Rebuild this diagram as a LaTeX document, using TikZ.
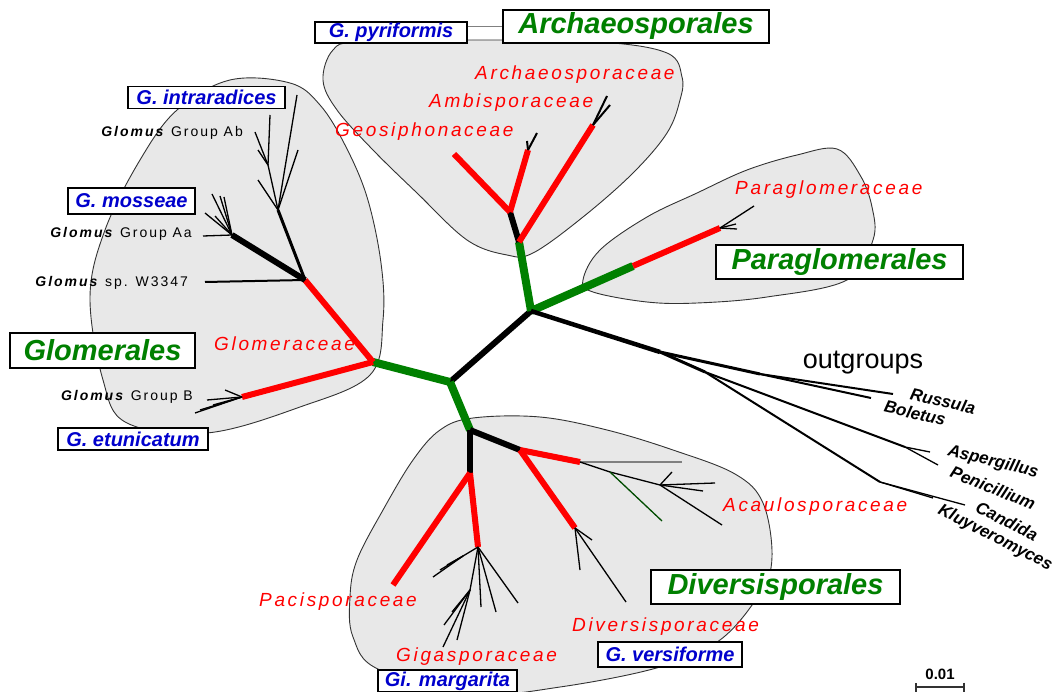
\documentclass[tikz,border=0pt]{standalone}
\usepackage{fontspec}
\setmainfont{Liberation Sans}
\newfontfamily\spacedfont[LetterSpace=14]{Liberation Sans}
\usetikzlibrary{arrows.meta,positioning}
\definecolor{ordergreen}{RGB}{0,128,0}
\definecolor{spblue}{RGB}{0,0,204}
\tikzset{
  clade/.style={draw=black!80, line width=0.9pt, fill=gray!18},
  orderbox/.style={draw, line width=1.6pt, fill=white, text=ordergreen, inner sep=0pt,
    font=\fontsize{29}{30}\selectfont\bfseries\itshape},
  spbox/.style={draw, line width=1.4pt, fill=white, text=spblue, inner sep=0pt,
    font=\fontsize{20}{22}\selectfont\bfseries\itshape},
  family/.style={text=red, inner sep=0pt, font=\spacedfont\fontsize{19}{20}\selectfont\itshape},
  taxon/.style={inner sep=0pt, font=\spacedfont\fontsize{14}{15}\selectfont},
  outtaxon/.style={inner sep=0pt, font=\fontsize{17}{18}\selectfont\bfseries\itshape},
  greenbr/.style={draw=ordergreen, line width=8pt},
  redbr/.style={draw=red, line width=6pt},
  blackbr/.style={draw=black, line width=6pt},
  medbr/.style={draw=black, line width=3pt},
  tipbr/.style={draw=black, line width=1.3pt},
}
\newcommand{\genus}{\textbf{\textit{Glomus}}}
\begin{document}
\begin{tikzpicture}[x=1pt, y=-1pt]
  \useasboundingbox (0,0) rectangle (1059,692);

  % Clade backgrounds
  \draw[clade] plot[smooth cycle, tension=0.6] coordinates {(230,80) (290,83) (320,105) (345,145) (367,197) (381,263) (383,320) (370,375) (300,407) (207,433) (127,423) (103,380) (90,297) (105,230) (140,160) (177,110)};
  \draw[clade] plot[smooth cycle, tension=0.6] coordinates {(333,50) (360,42) (480,40) (600,42) (667,53) (682,77) (680,100) (667,133) (633,173) (583,217) (533,253) (507,255) (467,240) (417,193) (373,150) (337,110) (323,80)};
  \draw[clade] plot[smooth cycle, tension=0.6] coordinates {(583,280) (600,250) (647,217) (697,193) (747,170) (797,155) (837,149) (860,175) (872,207) (873,240) (847,280) (767,297) (697,303) (647,302) (593,292)};
  \draw[clade] plot[smooth cycle, tension=0.6] coordinates {(440,430) (473,418) (540,417) (607,430) (673,450) (735,474) (763,503) (772,557) (760,593) (720,640) (660,667) (560,687) (480,693) (380,670) (353,637) (350,597) (357,560) (383,510) (413,460)};

  % Backbone
  \coordinate (hubB) at (450,382);
  \coordinate (hubA) at (531,311);
  \coordinate (glo) at (373,362);
  \coordinate (div) at (470,430);
  \coordinate (arc) at (519,242);
  \coordinate (par) at (633,266);
  \draw[blackbr] (hubB) -- (hubA);
  \draw[greenbr] (hubB) -- (glo);
  \draw[greenbr] (hubB) -- (div);
  \draw[greenbr] (hubA) -- (arc);
  \draw[greenbr] (hubA) -- (par);

  % Glomerales
  \coordinate (glA) at (305,280);
  \coordinate (glB) at (242,397);
  \coordinate (gaa) at (232,235);
  \coordinate (ab0) at (278,210);
  \coordinate (ab1) at (268,165);
  \coordinate (w3347) at (205,282);
  \draw[redbr] (glo) -- (glA);
  \draw[redbr] (glo) -- (glB);
  \draw[blackbr] (glA) -- (gaa);
  \draw[medbr] (glA) -- (ab0);
  \draw[tipbr, line width=2pt] (glA) -- (w3347);
  \draw[tipbr] (ab0) -- (ab1);
  \foreach \i/\x/\y in {1/203/236, 2/205/213, 3/212/194, 4/220/196, 5/224/197, 6/215/216}
    {\coordinate (aa\i) at (\x,\y); \draw[tipbr] (gaa) -- (aa\i);}
  \foreach \i/\x/\y in {1/297/95, 2/258/180, 3/298/150}
    {\coordinate (abt\i) at (\x,\y); \draw[tipbr] (ab0) -- (abt\i);}
  \foreach \i/\x/\y in {1/255/132, 2/270/115, 3/258/150}
    {\coordinate (abu\i) at (\x,\y); \draw[tipbr] (ab1) -- (abu\i);}
  \foreach \i/\x/\y in {1/207/400, 2/195/413, 3/225/390, 4/213/405, 5/200/410}
    {\coordinate (gb\i) at (\x,\y); \draw[tipbr] (glB) -- (gb\i);}

  % Archaeosporales
  \coordinate (ar2) at (510,212);
  \coordinate (archa) at (593,125);
  \coordinate (ambi) at (528,150);
  \coordinate (geos) at (454,154);
  \draw[blackbr] (arc) -- (ar2);
  \draw[redbr] (arc) -- (archa);
  \draw[redbr] (ar2) -- (ambi);
  \draw[redbr] (ar2) -- (geos);
  \foreach \i/\x/\y in {1/607/96, 2/610/105}
    {\coordinate (art\i) at (\x,\y); \draw[tipbr, line width=2pt] (archa) -- (art\i);}
  \foreach \i/\x/\y in {1/537/133, 2/527/141}
    {\coordinate (amt\i) at (\x,\y); \draw[tipbr, line width=2pt] (ambi) -- (amt\i);}

  % Paraglomerales
  \coordinate (pa1) at (720,228);
  \draw[redbr] (par) -- (pa1);
  \foreach \i/\x/\y in {1/754/206, 2/737/229, 3/736/224}
    {\coordinate (pat\i) at (\x,\y); \draw[tipbr] (pa1) -- (pat\i);}

  % Outgroups
  \coordinate (og) at (660,352);
  \coordinate (ogR) at (760,374);
  \coordinate (ogS) at (705,372);
  \coordinate (ogA) at (905,447);
  \coordinate (ogC) at (880,482);
  \coordinate (rus) at (893,394);
  \coordinate (bol) at (871,398);
  \coordinate (asp) at (930,452);
  \coordinate (pen) at (938,465);
  \coordinate (can) at (965,505);
  \coordinate (klu) at (933,498);
  \draw[blackbr, line width=4.5pt] (hubA) -- (og);
  \draw[medbr] (og) -- (ogR);
  \draw[medbr] (og) -- (ogS);
  \draw[tipbr, line width=2pt] (ogR) -- (rus);
  \draw[tipbr, line width=2pt] (ogR) -- (bol);
  \draw[tipbr, line width=2pt] (ogS) -- (ogA);
  \draw[tipbr, line width=2pt] (ogS) -- (ogC);
  \draw[tipbr] (ogA) -- (asp);
  \draw[tipbr] (ogA) -- (pen);
  \draw[tipbr] (ogC) -- (can);
  \draw[tipbr] (ogC) -- (klu);

  % Diversisporales
  \coordinate (dv1) at (470,473);
  \coordinate (dv2) at (520,450);
  \coordinate (paci) at (393,585);
  \coordinate (gi) at (478,547);
  \coordinate (ac) at (580,462);
  \coordinate (ds) at (575,528);
  \coordinate (ac1) at (610,472);
  \coordinate (ac3) at (660,485);
  \coordinate (gi1) at (463,556);
  \coordinate (gi2) at (470,590);
  \draw[blackbr] (div) -- (dv1);
  \draw[blackbr] (div) -- (dv2);
  \draw[redbr] (dv1) -- (paci);
  \draw[redbr] (dv1) -- (gi);
  \draw[redbr] (dv2) -- (ac);
  \draw[redbr] (dv2) -- (ds);
  \draw[tipbr, draw=black!50] (ac) -- ++(102,0) coordinate (act0);
  \draw[tipbr] (ac) -- (ac1);
  \draw[tipbr] (ac1) -- (ac3);
  \foreach \i/\x/\y in {1/672/472, 2/715/483, 3/703/491, 4/722/525}
    {\coordinate (act\i) at (\x,\y); \draw[tipbr] (ac3) -- (act\i);}
  \coordinate (acg) at (662,521);
  \draw[tipbr, draw=black!70!green] (ac1) -- (acg);
  \foreach \i/\x/\y in {1/580/570, 2/626/602, 3/592/540}
    {\coordinate (dst\i) at (\x,\y); \draw[tipbr] (ds) -- (dst\i);}
  \draw[tipbr] (gi) -- (gi1);
  \draw[tipbr] (gi) -- (gi2);
  \foreach \i/\x/\y in {1/433/577, 2/440/570, 3/447/565}
    {\coordinate (gil\i) at (\x,\y); \draw[tipbr] (gi1) -- (gil\i);}
  \foreach \i/\x/\y in {1/518/603, 2/496/612, 3/481/607}
    {\coordinate (git\i) at (\x,\y); \draw[tipbr] (gi) -- (git\i);}
  \foreach \i/\x/\y in {1/444/625, 2/443/647, 3/457/640, 4/452/612}
    {\coordinate (gib\i) at (\x,\y); \draw[tipbr] (gi2) -- (gib\i);}

  % Labels
  \node[taxon, anchor=east] (tab) at (243,133) {\genus{} Group Ab};
  \node[taxon, anchor=east] (taa) at (192,234) {\genus{} Group Aa};
  \node[taxon, anchor=east] (tw) at (188,283) {\genus{} sp. W3347};
  \node[taxon, anchor=east] (tb) at (193,397) {\genus{} Group B};
  \node[family, anchor=west] (fglo) at (214,344) {Glomeraceae};
  \node[family, anchor=west] (farc) at (475,75) {Archaeosporaceae};
  \node[family, anchor=west] (famb) at (429,103) {Ambisporaceae};
  \node[family, anchor=west] (fgeo) at (335,132) {Geosiphonaceae};
  \node[family, anchor=west] (fpar) at (735,190) {Paraglomeraceae};
  \node[family, anchor=west] (faca) at (723,507) {Acaulosporaceae};
  \node[family, anchor=west] (fpac) at (259,602) {Pacisporaceae};
  \node[family, anchor=west] (fgig) at (396,657) {Gigasporaceae};
  \node[family, anchor=west] (fdiv) at (572,627) {Diversisporaceae};
  \node[font=\fontsize{27}{28}\selectfont, inner sep=0pt] (outg) at (863,363) {outgroups};
  \node[outtaxon, rotate=-13] (trus) at (943,401) {Russula};
  \node[outtaxon, rotate=-13] (tbol) at (915,413) {Boletus};
  \node[outtaxon, rotate=-14] (tasp) at (993,462) {Aspergillus};
  \node[outtaxon, rotate=-22] (tpen) at (993,488) {Penicillium};
  \node[outtaxon, rotate=-27] (tcan) at (1007,521) {Candida};
  \node[outtaxon, rotate=-27] (tklu) at (995,538) {Kluyveromyces};

  % Order and species boxes
  \node[orderbox, minimum width=185, minimum height=35] (globox) at (102.5,350.5) {Glomerales};
  \node[orderbox, minimum width=266, minimum height=33] (arcbox) at (636,26.5) {Archaeosporales};
  \node[orderbox, minimum width=247, minimum height=34] (parbox) at (839.5,262) {Paraglomerales};
  \node[orderbox, minimum width=249, minimum height=34] (divbox) at (775.5,587) {Diversisporales};
  \node[spbox, minimum width=157, minimum height=22] (intra) at (206.5,97.5) {G. intraradices};
  \node[spbox, minimum width=127, minimum height=26] (moss) at (131.5,201) {G. mosseae};
  \node[spbox, minimum width=150, minimum height=22] (etun) at (133,439) {G. etunicatum};
  \node[spbox, minimum width=152, minimum height=21] (pyri) at (391,32.5) {G. pyriformis};
  \node[spbox, minimum width=139, minimum height=22] (marg) at (447.5,681) {Gi. margarita};
  \node[spbox, minimum width=144, minimum height=25] (vers) at (670,654.5) {G. versiforme};
  \draw[gray, line width=1pt] (pyri.east |- arcbox.west) -- (arcbox.west);

  % Scale bar
  \coordinate (sb1) at (915,687);
  \coordinate (sb2) at (965,687);
  \draw[black!80, line width=2pt, {Bar[width=9pt]}-{Bar[width=9pt]}] (sb1) -- (sb2);
  \node[font=\fontsize{15}{16}\selectfont\bfseries, inner sep=0pt] (sblab) at (940,674) {0.01};
\end{tikzpicture}
\end{document}
